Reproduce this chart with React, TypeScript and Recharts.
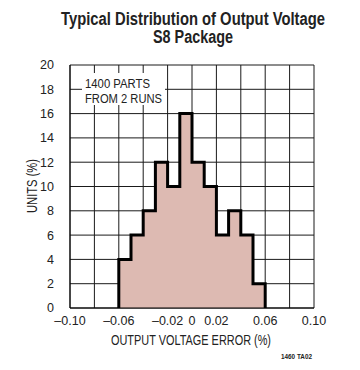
import { ComposedChart, Area, XAxis, YAxis, CartesianGrid } from 'recharts';

// histogram bins (output voltage error, %) and share of units in each (%)
const binStart = [-0.06, -0.05, -0.04, -0.03, -0.02, -0.01, 0, 0.01, 0.02, 0.03, 0.04, 0.05];
const units = [4, 6, 8, 12, 10, 16, 12, 10, 6, 8, 6, 2];
const binWidth = 0.01;

const xTicks = [-0.1, -0.08, -0.06, -0.04, -0.02, 0, 0.02, 0.04, 0.06, 0.08, 0.1];
const xLabeled = [-0.1, -0.06, -0.02, 0, 0.02, 0.06, 0.1];
const yTicks = [0, 2, 4, 6, 8, 10, 12, 14, 16, 18, 20];

const sans = "'Liberation Sans', Arial, sans-serif";
const ink = '#222';

// stepAfter outline: start on the baseline, close back to the baseline
const stepData = [
  { x: binStart[0], u: 0 },
  ...binStart.map((x, i) => ({ x, u: units[i] })),
  { x: binStart[binStart.length - 1] + binWidth, u: 0 },
];

const fmtX = (v: number) => {
  if (!xLabeled.some((l) => Math.abs(l - v) < 1e-9)) return '';
  if (Math.abs(v) < 1e-9) return '0';
  return (v < 0 ? '\u2013' : '') + Math.abs(v).toFixed(2);
};

// condensed look: squeeze regular glyphs to the measured width,
// optional vertical stretch keeps the natural width small
function Narrow(props: {
  x: number;
  y: number;
  w: number;
  size: number;
  stretch?: number;
  bold?: boolean;
  anchor?: 'start' | 'middle' | 'end';
  rotate?: boolean;
  children: string;
}) {
  const { x, y, w, size, stretch = 1, bold, anchor = 'middle', rotate, children } = props;
  return (
    <text
      x={0}
      y={0}
      textLength={w}
      lengthAdjust="spacingAndGlyphs"
      textAnchor={anchor}
      fontFamily={sans}
      fontSize={size}
      fontWeight={bold ? 'bold' : 'normal'}
      fill={ink}
      transform={`translate(${x} ${y})${rotate ? ' rotate(-90)' : ''} scale(1 ${stretch})`}
    >
      {children}
    </text>
  );
}

export default function App() {
  return (
    <div style={{ position: 'absolute', left: 0, top: 0, width: 360, height: 370, background: '#fff' }}>
      <ComposedChart
        width={360}
        height={370}
        data={stepData}
        margin={{ top: 65, right: 46, bottom: 32, left: 30 }}
      >
        <Area
          type="stepAfter"
          dataKey="u"
          stroke="#000"
          strokeWidth={3}
          fill="#ddbab2"
          fillOpacity={1}
          dot={false}
          activeDot={false}
          isAnimationActive={false}
        />
        <CartesianGrid stroke="#1a1a1a" strokeWidth={1} />
        <XAxis
          type="number"
          dataKey="x"
          domain={[-0.1, 0.1]}
          ticks={xTicks}
          tickFormatter={fmtX}
          interval={0}
          tickLine={false}
          axisLine={{ stroke: '#000' }}
          height={30}
          tick={{ fontSize: 12.5, fontFamily: sans, fill: ink }}
        />
        <YAxis
          type="number"
          domain={[0, 20]}
          ticks={yTicks}
          interval={0}
          tickLine={false}
          tickMargin={10}
          axisLine={{ stroke: '#000' }}
          width={40}
          tick={{ fontSize: 12.5, fontFamily: sans, fill: ink }}
        />
      </ComposedChart>
      <svg width={360} height={370} style={{ position: 'absolute', left: 0, top: 0 }}>
        <Narrow x={193} y={25} w={264} size={13} stretch={1.38} bold>
          Typical Distribution of Output Voltage
        </Narrow>
        <Narrow x={193} y={43} w={80} size={13} stretch={1.38} bold>
          S8 Package
        </Narrow>
        <Narrow x={191} y={345} w={160} size={14.5}>
          OUTPUT VOLTAGE ERROR (%)
        </Narrow>
        <Narrow x={37} y={186} w={54} size={14.5} rotate>
          UNITS (%)
        </Narrow>
        <rect x={82} y={73} width={83} height={32} fill="#fff" />
        <Narrow x={85} y={88} w={65} size={12.5} anchor="start">
          1400 PARTS
        </Narrow>
        <Narrow x={85} y={103} w={77} size={12.5} anchor="start">
          FROM 2 RUNS
        </Narrow>
        <Narrow x={312} y={359} w={31} size={6.5} bold anchor="end">
          1460 TA02
        </Narrow>
      </svg>
    </div>
  );
}
